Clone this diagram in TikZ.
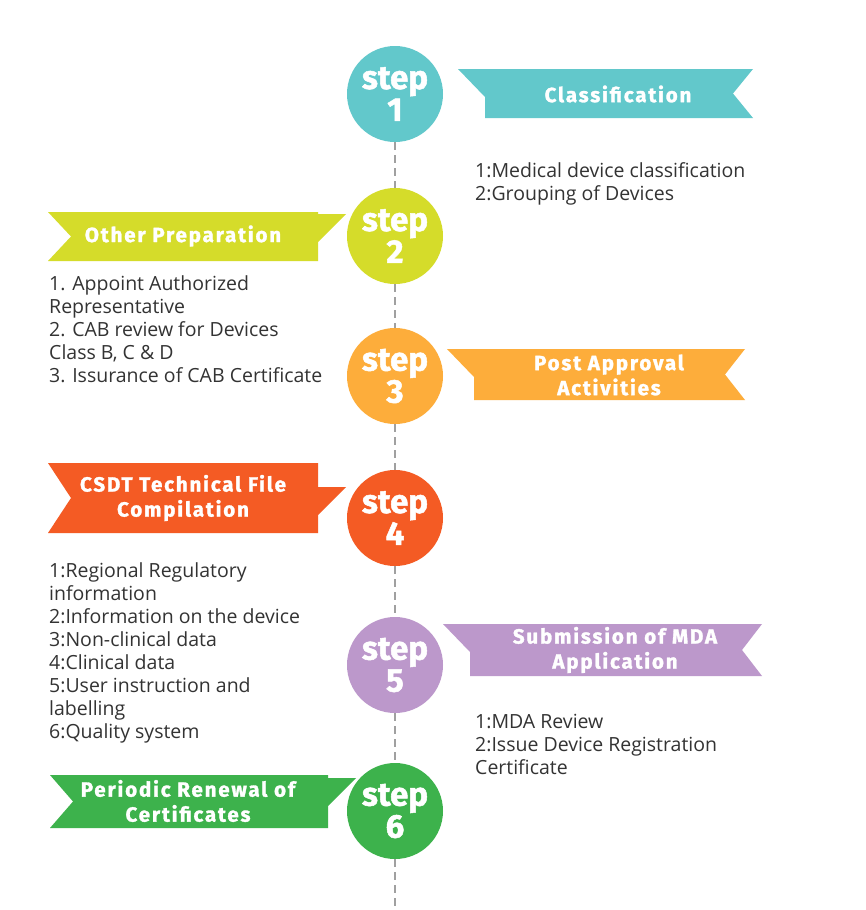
\documentclass[tikz,border=0pt]{standalone}
\usepackage{fontspec}
\setmainfont{Open Sans}
\newfontfamily\headfont{Fira Sans Bold}[FakeBold=1.5,LetterSpace=9]
\newfontfamily\stepfont{Fira Sans Bold}[FakeBold=1.5]
\usepackage{tikz}

\definecolor{stepteal}{HTML}{62C8CB}
\definecolor{steplime}{HTML}{D5DC2A}
\definecolor{steporange}{HTML}{FDAD3B}
\definecolor{stepred}{HTML}{F45B24}
\definecolor{steplilac}{HTML}{BC98CB}
\definecolor{stepgreen}{HTML}{3DB24C}
\definecolor{txtgray}{HTML}{333333}
\definecolor{linegray}{HTML}{A0A0A0}

% ribbon pointing left to the circle: colour, left, right, top, bottom
\newcommand{\rightribbon}[5]{%
  \fill[#1] (#2,#4) -- (#3,#4) -- ({#3-20},{(#4+#5)/2}) -- (#3,#5)
    -- ({#2+27},#5) -- ({#2+27},{#4+28}) -- cycle;}
% ribbon with a tab towards the circle: colour, left, right, top, bottom, tab top
\newcommand{\leftribbon}[6]{%
  \fill[#1] (#2,#4) -- (#3,#4) -- (#3,#6) -- ({#3+28},#6) -- (#3,{#6+28})
    -- (#3,#5) -- (#2,#5) -- ({#2+23},{(#4+#5)/2}) -- cycle;}

\tikzset{
  stepnode/.style={circle,fill=#1,minimum size=96pt,inner sep=0pt,text=white,
    align=center,font=\stepfont\fontsize{33}{32}\selectfont},
  ribbontitle/.style={text=white,align=center,inner sep=0pt,
    font=\headfont\fontsize{20.5}{25}\selectfont},
  itemlist/.style={anchor=north west,align=left,inner sep=0pt,text=txtgray,
    font=\fontsize{19.5}{23}\selectfont},
  dashline/.style={draw=linegray,line width=2pt,dash pattern=on 8pt off 5pt}
}

\begin{document}
\begin{tikzpicture}[x=1pt,y=-1pt]
\fill[white] (0,0) rectangle (865,910);
\useasboundingbox (0,0) rectangle (865,910);

% ribbons
\rightribbon{stepteal}{458}{753}{69}{118}
\leftribbon{steplime}{48}{318}{212}{261}{214}
\rightribbon{steporange}{447}{745}{349}{400}
\leftribbon{stepred}{48}{318}{463}{533}{487}
\rightribbon{steplilac}{443}{762}{624}{676}
\leftribbon{stepgreen}{50}{328}{775}{828}{778}

% steps
\node[stepnode=stepteal] (s1) at (395,94) {step\\1};
\node[stepnode=steplime] (s2) at (395,236) {step\\2};
\node[stepnode=steporange] (s3) at (395,376) {step\\3};
\node[stepnode=stepred] (s4) at (395,518) {step\\4};
\node[stepnode=steplilac] (s5) at (395,665) {step\\5};
\node[stepnode=stepgreen] (s6) at (395,811) {step\\6};
\coordinate (end) at (395,908);

\draw[dashline] (s1) -- (s2);
\draw[dashline] (s2) -- (s3);
\draw[dashline] (s3) -- (s4);
\draw[dashline] (s4) -- (s5);
\draw[dashline] (s5) -- (s6);
\draw[dashline] (s6) -- (end);

% titles
\node[ribbontitle] (t1) at (618,94) {Classification};
\node[ribbontitle] (t2) at (183,236) {Other Preparation};
\node[ribbontitle] (t3) at (609,375) {Post Approval\\Activities};
\node[ribbontitle] (t4) at (183,498) {CSDT Technical File\\Compilation};
\node[ribbontitle] (t5) at (615,650) {Submission of MDA\\Application};
\node[ribbontitle] (t6) at (188,801) {Periodic Renewal of\\Certificates};

% lists
\node[itemlist] (l1) at (475,162) {1:Medical device classification\\2:Grouping of Devices};
\node[itemlist] (l2) at (49,275) {1. Appoint Authorized\\Representative\\2. CAB review for Devices\\Class B, C \& D\\3. Issurance of CAB Certificate};
\node[itemlist] (l4) at (49,562) {1:Regional Regulatory\\information\\2:Information on the device\\3:Non-clinical data\\4:Clinical data\\5:User instruction and\\labelling\\6:Quality system};
\node[itemlist] (l5) at (475,714) {1:MDA Review\\2:Issue Device Registration\\Certificate};
\end{tikzpicture}
\end{document}
